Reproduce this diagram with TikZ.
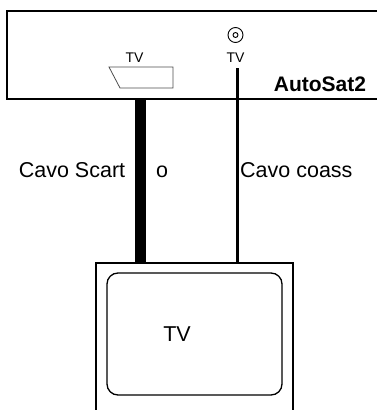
\documentclass[tikz,border=0pt]{standalone}
\usepackage{fontspec}
\setmainfont{Liberation Sans}
\begin{document}
\begin{tikzpicture}[x=1pt,y=-1pt,
		frame/.style={line width=1.4pt},
		scartcable/.style={line width=11pt},
		coaxcable/.style={line width=2.2pt},
		big/.style={font=\fontsize{21.5}{24}\selectfont, inner sep=0pt},
		small/.style={font=\fontsize{14}{16}\selectfont, inner sep=0pt}]
		\useasboundingbox (0,0) rectangle (377,410);
		\clip (0,0) rectangle (377,410);
		
		% receiver, open at the right
		\draw[frame] (390,11) -- (7,11) -- (7,99) -- (390,99);
		\node[big, font=\fontsize{21}{24}\selectfont\bfseries, anchor=base] (name) at (320,91) {AutoSat2};
		
		% sockets
		\draw[line width=0.8pt, black!70] (109,67) -- (173,67) -- (173,88) -- (120,88) -- cycle;
		\node[small, anchor=base] (scartlbl) at (134.5,62) {TV};
		\draw[line width=0.9pt] (235.5,35) circle (7.5);
		\draw[line width=0.9pt] (235.5,35) circle (2.5);
		\node[small, anchor=base] (coaxlbl) at (235.5,62) {TV};
		
		% television
		\coordinate (scart) at (140.5,99);
		\coordinate (coax) at (237.5,68);
		\coordinate (tvtop) at (194.5,263);
		\draw[frame] (96,415) -- (96,263) -- (293,263) -- (293,415);
		\draw[line width=1.3pt, rounded corners=11pt] (107,273) rectangle (282,395);
		\node[big, anchor=base] (tv) at (177,341) {TV};
		
		% cables
		\draw[scartcable] (scart) -- (scart |- tvtop);
		\draw[coaxcable] (coax) -- (coax |- tvtop);
		\node[big, anchor=base] (scartname) at (72,177) {Cavo Scart};
		\node[big, anchor=base] (or) at (162,177) {o};
		\node[big, anchor=base west] (coaxname) at (240,177) {Cavo coass};
\end{tikzpicture}
\end{document}
